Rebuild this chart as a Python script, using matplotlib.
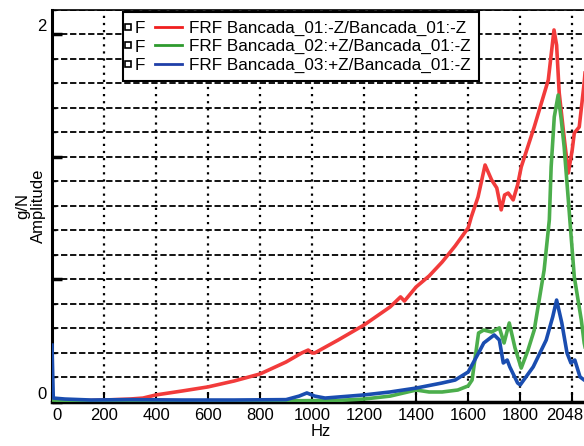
import numpy as np
import matplotlib
matplotlib.use('Agg')
import matplotlib.pyplot as plt
import matplotlib.transforms as mtransforms
from matplotlib.lines import Line2D
from matplotlib.text import Text
from matplotlib.legend_handler import HandlerBase
from matplotlib.ticker import MultipleLocator

# values (Hz, g/N)
red_hz = [0, 30, 100, 200, 300, 350, 400, 500, 600, 700, 800, 900, 960, 985,
          1000, 1010, 1100, 1200, 1300, 1340, 1355, 1400, 1450, 1500, 1550,
          1600, 1612, 1638, 1665, 1690, 1710, 1727, 1740, 1754, 1773, 1790,
          1804, 1854, 1908, 1930, 1940, 1950, 1970, 1985, 2000, 2008, 2027,
          2046, 2060]
red_amp = [0.02, 0.01, 0.005, 0.01, 0.015, 0.02, 0.036, 0.056, 0.077, 0.107,
           0.143, 0.204, 0.25, 0.265, 0.25, 0.25, 0.316, 0.393, 0.485, 0.536,
           0.515, 0.587, 0.643, 0.714, 0.796, 0.888, 0.944, 1.046, 1.209,
           1.133, 1.092, 0.98, 1.056, 1.066, 1.031, 1.107, 1.199, 1.403,
           1.643, 1.898, 1.82, 1.577, 1.337, 1.168, 1.286, 1.372, 1.403,
           1.628, 1.85]

green_hz = [0, 100, 400, 800, 1100, 1200, 1300, 1400, 1450, 1500, 1560, 1600,
            1615, 1640, 1660, 1690, 1720, 1738, 1758, 1780, 1804, 1830, 1854,
            1892, 1912, 1919, 1931, 1946, 1958, 1969, 1985, 1996, 2008, 2035,
            2046, 2060]
green_amp = [0.01, 0.005, 0.005, 0.005, 0.008, 0.015, 0.03, 0.061, 0.051,
             0.051, 0.061, 0.082, 0.112, 0.352, 0.367, 0.357, 0.378, 0.301,
             0.403, 0.276, 0.173, 0.265, 0.367, 0.673, 0.929, 1.199, 1.454,
             1.566, 1.439, 1.301, 1.031, 0.842, 0.638, 0.418, 0.301, 0.214]

blue_hz = [0, 5, 50, 150, 300, 500, 700, 900, 950, 980, 1010, 1050, 1200, 1300,
           1400, 1500, 1550, 1600, 1640, 1660, 1700, 1720, 1735, 1750, 1760,
           1790, 1800, 1850, 1900, 1925, 1940, 1960, 1980, 1995, 2010, 2030,
           2046, 2060]
blue_amp = [0.29, 0.02, 0.015, 0.01, 0.012, 0.01, 0.01, 0.012, 0.03, 0.046,
            0.03, 0.02, 0.036, 0.051, 0.071, 0.097, 0.112, 0.153, 0.25, 0.301,
            0.342, 0.316, 0.199, 0.214, 0.179, 0.097, 0.087, 0.179, 0.316,
            0.434, 0.52, 0.403, 0.25, 0.199, 0.214, 0.128, 0.112, 0.102]

series_labels = ['FRF Bancada_01:-Z/Bancada_01:-Z',
                 'FRF Bancada_02:+Z/Bancada_01:-Z',
                 'FRF Bancada_03:+Z/Bancada_01:-Z']
series_colors = ['#f23b3b', '#4cae4c', '#1a4db0']
legend_colors = ['#f01e1e', '#2e9a2e', '#1f3fa8']

x_ticks = [0, 200, 400, 600, 800, 1000, 1200, 1400, 1600, 1800, 2000]
x_ticklabels = ['0', '200', '400', '600', '800', '1000', '1200', '1400',
                '1600', '1800', '2048']
y_major = [0, 0.625, 1.25, 1.875]
y_ticklabels = ['0', '', '', '2']


class BoxFLine(HandlerBase):
    '''
    Legend handle drawn as: small square, the letter F, then the line
    '''
    def create_artists(self, legend, orig_handle, xdescent, ydescent,
                       width, height, fontsize, trans):
        y = height / 2.0 - ydescent
        x0 = -xdescent
        box = Line2D([x0 - 2.5], [y], ls='none', marker='s', ms=4.5,
                     mfc='white', mec='black', mew=1.2, transform=trans)
        letter = Text(x0 + 2.5, y - 1.5, 'F', fontsize=fontsize, ha='left',
                      va='center', transform=trans)
        line = Line2D([x0 + 0.47 * width, x0 + width], [y, y],
                      color=orig_handle.get_color(), lw=2, transform=trans)
        return [box, letter, line]


def frf_plot(figsize=(5.84, 4.46), filepath='out.png'):
    '''
    Plots the three FRF amplitude curves with the old scope-style grid
    '''
    plt.rcParams['font.family'] = ['Liberation Sans', 'DejaVu Sans']

    fig = plt.figure(figsize=figsize, dpi=100)
    ax = fig.add_axes([0.089, 0.0987, 0.922, 0.879])

    curves = [(red_hz, red_amp), (green_hz, green_amp), (blue_hz, blue_amp)]
    for (hz, amp), color, label in zip(curves, series_colors, series_labels):
        ax.plot(hz, amp, color=color, lw=2.6, label=label, zorder=3,
                solid_joinstyle='round')

    ax.set_xlim(0, 2070)
    ax.set_ylim(0, 2.0)

    ax.set_xticks(x_ticks)
    ax.set_xticklabels(x_ticklabels, fontsize=12)
    ax.set_yticks(y_major)
    ax.set_yticklabels(y_ticklabels, fontsize=12, va='bottom')
    ax.yaxis.set_minor_locator(MultipleLocator(0.125))

    ax.tick_params(axis='x', direction='in', length=7, width=1.5, pad=4)
    ax.tick_params(axis='y', which='major', direction='in', length=7,
                   width=2.5, pad=4)
    ax.tick_params(axis='y', which='minor', direction='in', length=3, width=1)

    # first label sits right of its tick, last one left of it (as in the scan)
    xlabels = ax.get_xticklabels()
    xlabels[0].set_ha('left')
    nudge = mtransforms.ScaledTranslation(-8 / 100.0, 0, fig.dpi_scale_trans)
    xlabels[-1].set_transform(xlabels[-1].get_transform() + nudge)

    ax.grid(axis='x', which='major', color='black', linestyle=(0, (1, 2.2)),
            lw=1.6)
    ax.grid(axis='y', which='both', color='black', linestyle=(0, (3.5, 1.5)),
            lw=1.3)
    ax.set_axisbelow(True)

    ax.spines['left'].set_linewidth(2.2)
    ax.spines['bottom'].set_linewidth(2.5)
    ax.spines['top'].set_linewidth(1.2)
    ax.spines['right'].set_visible(False)

    ax.set_xlabel('Hz', fontsize=12, labelpad=1)
    ax.set_ylabel('g/N\nAmplitude', fontsize=12, linespacing=1.0)
    ax.yaxis.set_label_coords(-0.012, 0.5)

    handles = [Line2D([], [], color=c, lw=2) for c in legend_colors]
    leg = ax.legend(handles, series_labels, loc='upper left',
                    handler_map={Line2D: BoxFLine()},
                    bbox_to_anchor=(123 / 584.0, 1 - 12 / 446.0),
                    bbox_transform=fig.transFigure, borderaxespad=0,
                    fontsize=12.3, fancybox=False, framealpha=1,
                    edgecolor='black', handlelength=2.98, handletextpad=0.4,
                    labelspacing=0.2, borderpad=0.5)
    leg.get_frame().set_linewidth(1.5)
    leg.set_zorder(5)

    if filepath:
        plt.savefig(filepath, dpi=100)


if __name__ == '__main__':
    frf_plot()
